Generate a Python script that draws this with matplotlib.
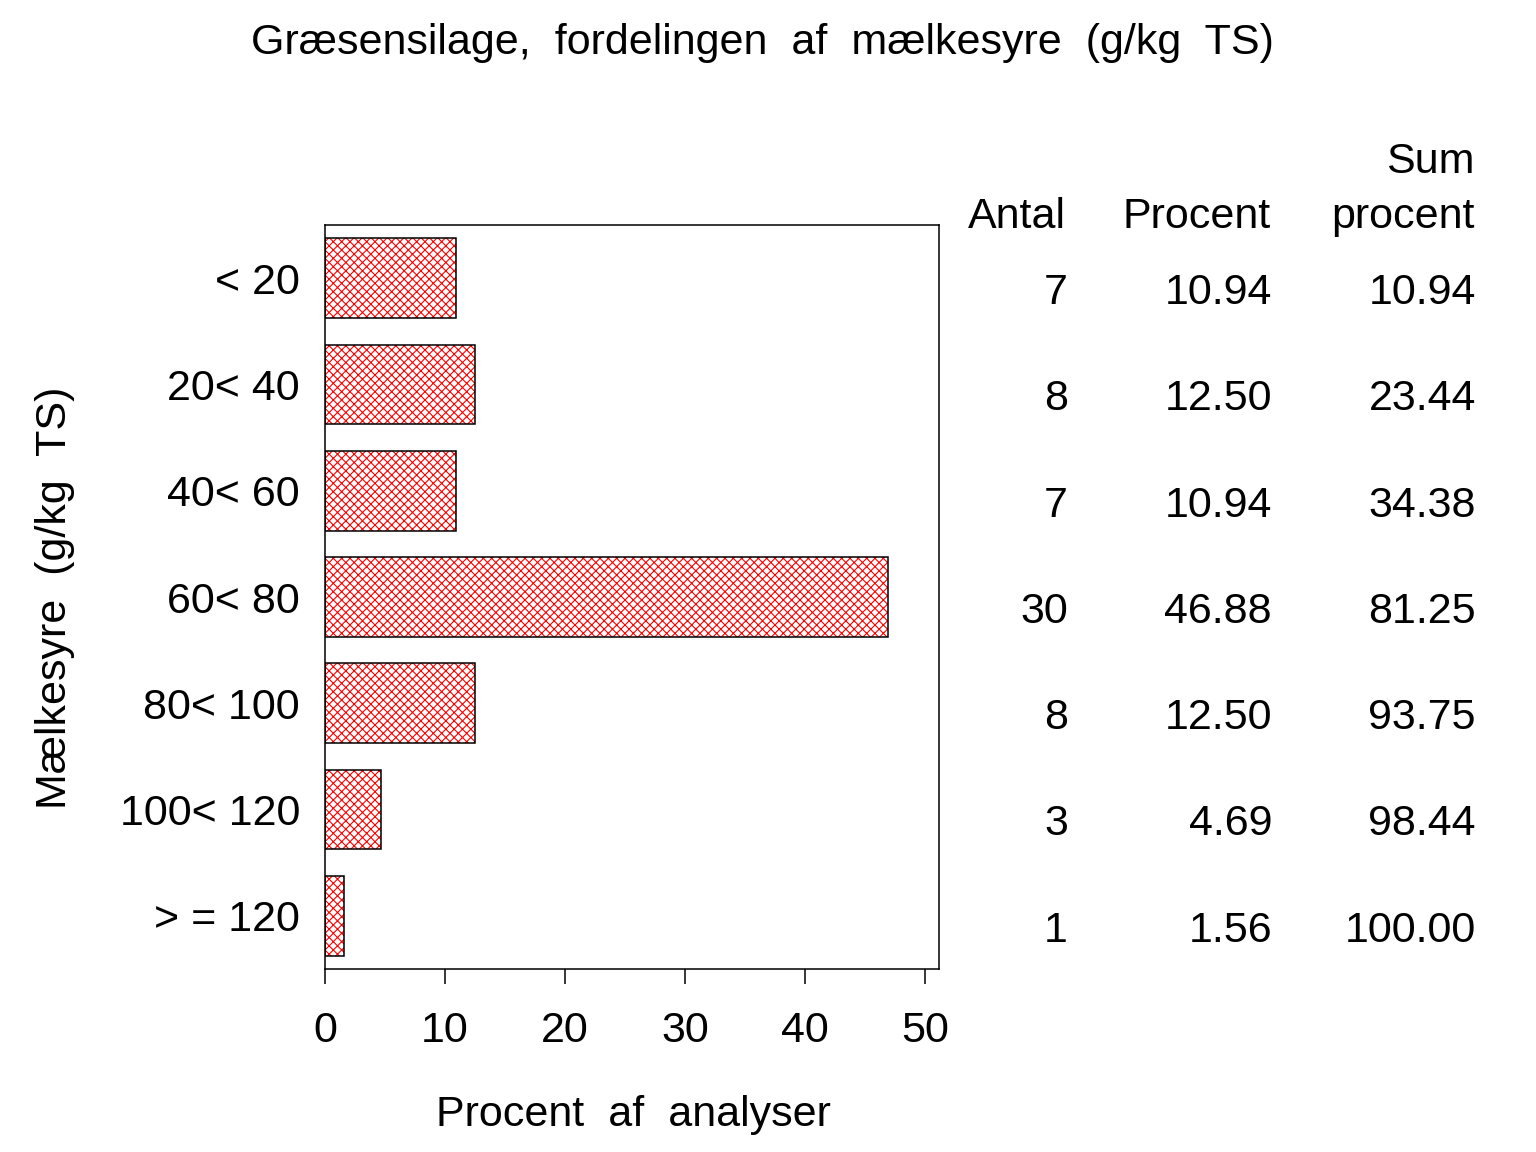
import matplotlib
matplotlib.use("Agg")
import matplotlib.pyplot as plt
import matplotlib.transforms as mtransforms

plt.rcParams['font.family'] = ['Liberation Sans', 'DejaVu Sans']
plt.rcParams['hatch.linewidth'] = 0.8

categories = ["< 20", "20< 40", "40< 60", "60< 80", "80< 100", "100< 120", "> = 120"]
antal = [7, 8, 7, 30, 8, 3, 1]
procent = [10.94, 12.50, 10.94, 46.88, 12.50, 4.69, 1.56]
sum_procent = [10.94, 23.44, 34.38, 81.25, 93.75, 98.44, 100.00]
xticks = [0, 10, 20, 30, 40, 50]

W, H = 1536, 1152
fig = plt.figure(figsize=(W / 100, H / 100), dpi=100)
ax = fig.add_axes([325 / W, 1 - 969 / H, 614 / W, 744 / H])

ypos = list(range(len(categories)))
ax.barh(ypos, procent, height=0.75, color='white', edgecolor='red', hatch='xxxx', linewidth=0)
ax.barh(ypos, procent, height=0.75, facecolor='none', edgecolor='black', linewidth=1.1)

ax.set_ylim(len(categories) - 0.5, -0.5)
ax.set_xlim(0, 614 / 12)
ax.set_xticks(xticks)
ax.set_xticklabels([str(t) for t in xticks])
ax.set_yticks(ypos)
ax.set_yticklabels(categories)
ax.tick_params(axis='x', direction='out', length=11, width=1.1, pad=19, labelsize=31)
ax.tick_params(axis='y', length=0, pad=18, labelsize=31)
for s in ax.spines.values():
    s.set_linewidth(1.1)

fs = 31
fig.text(762 / W, 1 - 54 / H, "Græsensilage,  fordelingen  af  mælkesyre  (g/kg  TS)",
         ha='center', va='baseline', fontsize=fs)
fig.text(55 / W, 1 - 598 / H, "Mælkesyre  (g/kg  TS)", rotation=90,
         ha='center', va='center', fontsize=fs)
fig.text(633 / W, 1 - 1126 / H, "Procent  af  analyser", ha='center', va='baseline', fontsize=fs)

# table headers
fig.text(1066 / W, 1 - 228 / H, "Antal", ha='right', va='baseline', fontsize=fs)
fig.text(1271 / W, 1 - 228 / H, "Procent", ha='right', va='baseline', fontsize=fs)
fig.text(1475 / W, 1 - 173 / H, "Sum", ha='right', va='baseline', fontsize=fs)
fig.text(1475 / W, 1 - 228 / H, "procent", ha='right', va='baseline', fontsize=fs)

trans = mtransforms.blended_transform_factory(fig.transFigure, ax.transData)
for i in ypos:
    yy = i + 0.14
    fig.text(1068 / W, yy, f"{antal[i]}", ha='right', va='center', fontsize=fs, transform=trans)
    fig.text(1272 / W, yy, f"{procent[i]:.2f}", ha='right', va='center', fontsize=fs, transform=trans)
    fig.text(1476 / W, yy, f"{sum_procent[i]:.2f}", ha='right', va='center', fontsize=fs, transform=trans)

fig.savefig("out.png", dpi=100, facecolor='white')
